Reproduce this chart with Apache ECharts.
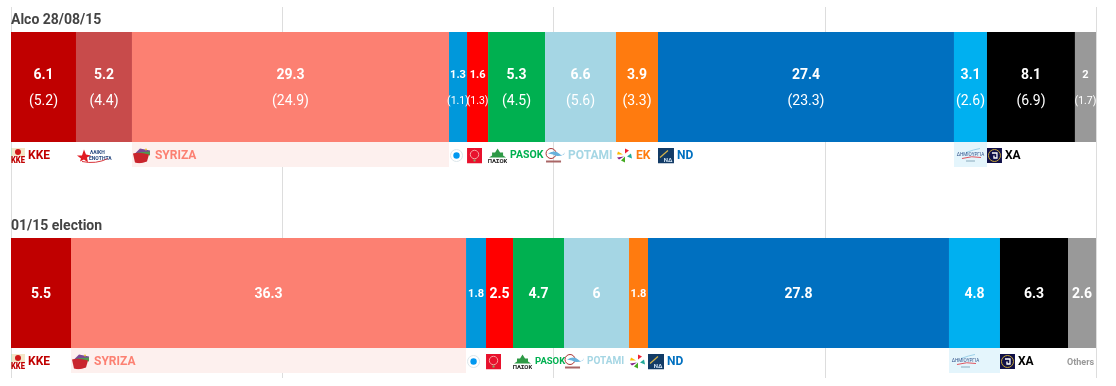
<!DOCTYPE html>
<html><head><meta charset="utf-8">
<style>html,body{margin:0;padding:0;background:#fff}#c{width:1116px;height:386px}</style>
<script src="https://cdn.jsdelivr.net/npm/echarts@6/dist/echarts.min.js"></script>
</head><body><div id="c"></div>
<script>
const rowTitles = ['Alco 28/08/15', '01/15 election'];

const pollParties = ['KKE','LAE','SYRIZA','DIMAR','KIDISO','PASOK','POTAMI','EK','ND','DIM','XA','OTH'];
const pollValues  = [6.1,5.2,29.3,1.3,1.6,5.3,6.6,3.9,27.4,3.1,8.1,2];
const pollRaw     = [5.2,4.4,24.9,1.1,1.3,4.5,5.6,3.3,23.3,2.6,6.9,1.7];
// segment lengths (thin segments are drawn wider than their label)
const pollLengths = [5.99,5.16,29.22,1.66,1.94,5.25,6.54,3.87,27.28,3.04,8.11,1.94];
const pollNames   = ['KKE','','SYRIZA','','','PASOK','POTAMI','EK','ND','','XA',''];

const electionParties = ['KKE','SYRIZA','DIMAR','KIDISO','PASOK','POTAMI','EK','ND','DIM','XA','OTH'];
const electionValues  = [5.5,36.3,1.8,2.5,4.7,6,1.8,27.8,4.8,6.3,2.6];
const electionLengths = [5.53,36.41,1.84,2.49,4.70,5.99,1.75,27.74,4.70,6.27,2.58];
const electionNames   = ['KKE','SYRIZA','','','PASOK','POTAMI','','ND','','XA','Others'];

const partyColors = {KKE:'#c00000',LAE:'#c84b4b',SYRIZA:'#fc8072',DIMAR:'#0098db',KIDISO:'#ff0000',PASOK:'#00b050',POTAMI:'#a5d6e4',EK:'#ff7b0f',ND:'#0070c0',DIM:'#00b0f0',XA:'#000000',OTH:'#999999'};
const bandColors  = {SYRIZA:'#fdf0ee',DIM:'#e4f5fc'};

const svg = (w,h,b)=>`data:image/svg+xml,${encodeURIComponent(`<svg xmlns="http://www.w3.org/2000/svg" width="${w}" height="${h}" viewBox="0 0 ${w} ${h}">${b}</svg>`)}`;
const logos = {
 KKE:{w:14,h:15,src:svg(14,15,`<rect width="14" height="8" fill="#f4e6c8"/><rect width="1" height="15" fill="#bde0c8"/><circle cx="7" cy="4" r="3" fill="#d01818"/><text x="0" y="15" font-family="Roboto" font-size="9" font-weight="900" textLength="14" lengthAdjust="spacingAndGlyphs" fill="#c00000">KKE</text>`)},
 LAE:{w:36,h:16,src:svg(36,16,`<path d="M1 8 L6 8 L8 2 L10 7 L15 8 L11 10 L12 15 L8 12 L4 14 L5 11Z" fill="#e11b22"/><path d="M6 14 Q20 17 32 11" stroke="#d8353b" stroke-width="1" fill="none"/><text x="14" y="6" font-family="Roboto" font-size="5" font-weight="700" fill="#26477f">ΛΑΙΚΗ</text><text x="13" y="12" font-family="Roboto" font-size="5" font-weight="700" fill="#26477f">ΕΝΟΤΗΤΑ</text>`)},
 SYRIZA:{w:20,h:16,src:svg(20,16,`<path d="M2 7 L8 1 L18 3 L18 7 Z" fill="#7a4a96"/><path d="M5 5 L18 4 L18 8 Z" fill="#4f9a4f"/><circle cx="14" cy="2" r="1" fill="#e8c33a"/><path d="M1 6 Q7 4 17 7 L15 14 Q8 17 3 15 Z" fill="#c9252d"/>`)},
 DIMAR:{w:15,h:15,src:svg(15,15,`<circle cx="7.5" cy="7.5" r="6" fill="#fff" stroke="#dce6ea"/><circle cx="7.5" cy="7.5" r="3.2" fill="#0098f0"/>`)},
 KIDISO:{w:15,h:16,src:svg(15,16,`<rect width="15" height="16" fill="#e8112d"/><circle cx="7.5" cy="7" r="4.2" fill="none" stroke="#f7a0a0"/><rect x="6.5" y="12" width="2" height="2" fill="#7cb26a"/>`)},
 PASOK:{w:19,h:16,src:svg(19,16,`<path d="M1 10 L4 8 L4 5 L7 5 L9.5 1 L12 5 L15 5 L15 8 L18 10 Z" fill="#2e9a46"/><text x="9.5" y="15.5" font-family="Roboto" font-size="6" font-weight="700" text-anchor="middle" fill="#222">ΠΑΣΟΚ</text>`)},
 POTAMI:{w:20,h:16,src:svg(20,16,`<circle cx="6" cy="6" r="5" fill="none" stroke="#a33"/><path d="M3 6 Q10 2 14 6 T20 4 L19 7 Q12 10 8 7Z" fill="#68b2dc"/><rect x="1" y="13" width="15" height="2" fill="#a66"/>`)},
 EK:{w:17,h:16,src:svg(17,16,`<path d="M9 1 L13 3 L9 6Z" fill="#e23"/><path d="M15 6 L16 11 L11 9Z" fill="#2a9"/><path d="M9 15 L5 13 L9 9Z" fill="#4a2"/><path d="M1 10 L8 9 L3 12Z" fill="#828"/><path d="M2 4 L7 7 L1 7Z" fill="#fb0"/>`)},
 ND:{w:16,h:16,src:svg(16,16,`<rect width="16" height="16" fill="#123b66"/><path d="M2 10 L10 3" stroke="#d8b54a" stroke-width="1.2"/><text x="10" y="14" font-family="Roboto" font-size="6" font-weight="700" text-anchor="middle" fill="#cfe2f5">ΝΔ</text>`)},
 DIM:{w:33,h:16,src:svg(33,16,`<path d="M12 5 Q20 2 26 1" stroke="#9bd0e8" fill="none"/><text x="16.5" y="8" font-family="Roboto" font-size="4.6" text-anchor="middle" fill="#33558c">ΔΗΜΙΟΥΡΓΙΑ</text><path d="M8 11 Q18 8 27 10" stroke="#e0555f" stroke-width="1" fill="none"/><rect x="12" y="13" width="9" height="1" fill="#8ab"/>`)},
 XA:{w:15,h:15,src:svg(15,15,`<rect width="15" height="15" fill="#101048"/><circle cx="7.5" cy="7.5" r="6" fill="none" stroke="#c8a838"/><path d="M5 5 H10 V10 H7 V7.5" fill="none" stroke="#fff" stroke-width="1.3"/>`)}
};

const F='Roboto';
const left=11, width=1085;
const rows=[
 {parties:pollParties,values:pollValues,raw:pollRaw,lengths:pollLengths,names:pollNames,top:32,nameSize:{PASOK:10.5}},
 {parties:electionParties,values:electionValues,raw:null,lengths:electionLengths,names:electionNames,top:238,nameSize:{PASOK:9.5,POTAMI:10}}
];
const grids=[{left,width,top:7,height:371}], xAxes=[{gridIndex:0,type:'value',min:0,max:100,interval:25,axisLabel:{show:false},axisLine:{show:false},axisTick:{show:false},splitLine:{show:true,lineStyle:{color:'#dddddd',width:1}}}], yAxes=[{gridIndex:0,type:'category',data:[''],show:false}], series=[];
function addGrid(top,height,name){
  grids.push({left,width,top,height});
  const i=grids.length-1;
  xAxes.push({gridIndex:i,type:'value',min:0,max:100,show:false,splitLine:{show:false}});
  yAxes.push({gridIndex:i,type:'category',data:[name],show:false});
  return i;
}
const logoRich={};
Object.keys(logos).forEach(k=>{const l=logos[k];logoRich['l'+k]={width:l.w,height:l.h,backgroundColor:{image:l.src}};});
series.push({type:'bar',xAxisIndex:0,yAxisIndex:0,data:[0],silent:true,z:0});
rows.forEach((r,ri)=>{
  const gBar=addGrid(r.top,110,rowTitles[ri]);
  const gBand=addGrid(r.top+110,25,rowTitles[ri]);
  r.parties.forEach((p,i)=>{
    const v=r.values[i], small=v<2.5;
    const bs=small?11:14, ps=small?10.5:14;
    const txt=r.raw?`{b|${v}}\n{p|(${r.raw[i]})}`:`{b|${v}}`;
    series.push({type:'bar',name:p,xAxisIndex:gBar,yAxisIndex:gBar,stack:'r'+ri,barWidth:'100%',data:[r.lengths[i]],silent:true,z:3,
      itemStyle:{color:partyColors[p]},
      label:{show:true,position:'inside',offset:[0,1],formatter:txt,fontFamily:F,
        rich:{b:{fontFamily:F,fontSize:bs,fontWeight:'bold',color:'#fff',lineHeight:r.raw?26:16,align:'center'},
              p:{fontFamily:F,fontSize:ps,color:'#fff',lineHeight:26,align:'center'}}}});
    const lg=logos[p]?`{l${p}|}`:'';
    const nm=r.names[i]?`{n|${r.names[i]}}`:'';
    const others=p==='OTH';
    series.push({type:'bar',name:p+' label',xAxisIndex:gBand,yAxisIndex:gBand,stack:'b'+ri,barWidth:'100%',data:[r.lengths[i]],silent:true,z:2,
      itemStyle:{color:bandColors[p]||'rgba(0,0,0,0)'},
      label:{show:true,position:'insideLeft',distance:0,offset:others?[-1,1]:[0,1],padding:0,
        formatter:others?(r.names[i]?`{o|${r.names[i]}}`:''):(lg+nm),
        rich:Object.assign({},logoRich,{
          n:{fontFamily:F,fontSize:r.nameSize[p]||12,fontWeight:'bold',color:partyColors[p],padding:[0,0,0,3]},
          o:{fontFamily:F,fontSize:9,fontWeight:'bold',color:'#999',padding:[2,0,0,0]}})}});
  });
});
const chart=echarts.init(document.getElementById('c'),null,{renderer:'canvas'});
chart.setOption({animation:false,backgroundColor:'#fff',tooltip:{show:false},legend:{show:false},
  title:rowTitles.map((t,i)=>({text:t,left:11,top:rows[i].top-19,padding:0,textStyle:{fontFamily:F,fontSize:14,fontWeight:'bold',color:'#444'}})),
  grid:grids,xAxis:xAxes,yAxis:yAxes,series});
</script></body></html>
